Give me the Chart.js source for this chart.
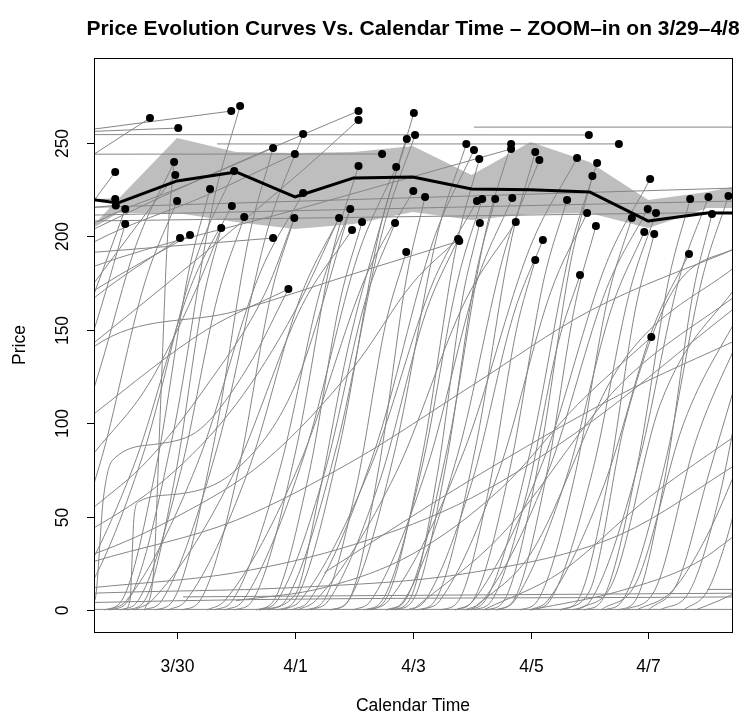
<!DOCTYPE html>
<html><head><meta charset="utf-8">
<script src="https://cdn.jsdelivr.net/npm/chart.js@4"></script>
<style>html,body{margin:0;padding:0;background:#fff}</style>
</head><body>
<canvas id="c" width="741" height="719"></canvas>
<script>
// ---- axis ticks ----
const xTickDays = [1, 3, 5, 7, 9];
const xTickLabels = ['3/30', '4/1', '4/3', '4/5', '4/7'];
const yTicks = [0, 50, 100, 150, 200, 250];

// ---- mean line and band (days since 3/29) ----
const meanDays = [-1, 0, 1, 2, 3, 4, 5, 6, 7, 8, 9, 10, 11];
const meanPrices = [222, 217.9, 229.7, 234.5, 221.1, 231.3, 231.8, 225.4, 224.9, 223.8, 208.2, 212.5, 212.5];
const bandDays = [-0.45, 0, 1, 2, 3, 4, 5, 6, 7, 8, 9, 10, 11];
const bandUpper = [205, 220, 252.7, 245.2, 244.6, 245.2, 248.4, 232.9, 250.5, 239.8, 219.5, 223.8, 230];
const bandLower = [204, 212.5, 212.5, 207.7, 204, 206.6, 213, 208.8, 212, 212.5, 204.5, 215.2, 215.2];

// ---- final prices (dots) ----
const dotDays = [0.54,1.02,1.92,2.07,-0.05,0.95,0.97,1.97,1.56,-0.05,-0.04,0.12,0.12,1.00,1.93,2.14,1.75,1.05,1.22,2.63,3.00,3.14,2.99,2.63,3.14,4.08,4.08,4.48,4.08,4.72,5.02,5.04,4.90,5.01,5.21,3.94,3.75,4.14,3.97,4.70,4.89,5.91,6.04,6.13,5.77,6.09,6.18,6.40,6.69,6.67,6.67,6.14,6.75,7.99,8.50,7.08,7.15,7.79,8.13,8.05,9.03,7.62,7.96,8.72,8.99,9.13,8.11,8.93,9.10,9.71,10.02,10.36,10.08,7.21,9.69,2.89,5.79,7.08,7.84,9.05];
const dotPrices = [263.4,258.0,267.1,269.8,234.5,239.8,232.9,235.0,225.4,220.0,216.6,214.6,206.6,219.0,216.3,210.4,204.5,199.1,200.7,247.3,244.1,254.8,209.9,199.1,223.2,267.1,262.3,244.1,237.7,237.2,266.1,254.3,252.1,224.3,221.1,214.7,209.9,207.7,203.4,207.2,191.6,249.5,246.3,241.4,198.6,218.9,220.0,220.0,220.6,249.5,246.8,207.2,207.7,254.3,249.5,245.2,240.9,242.0,239.3,232.3,230.7,219.5,212.5,209.9,214.7,212.5,205.6,202.4,201.3,220.0,221.1,221.6,212.0,198.1,190.6,171.8,197.5,187.4,179.3,146.1];

// ---- price evolution curves: [day, price] ----
const curvesFromLeft = [
  [[-1,232],[0.54,263.4]], [[-1,255.5],[1.02,258]], [[-1,255],[1.92,267.1]],
  [[-1,254.5],[7.99,254.3]], [[-1,244],[4.48,244.1]], [[-1,194],[-0.05,234.5]],
  [[-1,219],[-0.05,220]], [[-1,214],[-0.04,216.6]],
  [[-1,120],[-0.4,170],[0.12,214.6]], [[-1,100],[-0.41,150],[0.12,206.6]],
  [[-1,60],[-0.3,130],[0.3,195],[0.95,239.8]], [[-1,150],[-0.41,175],[0.3,205],[0.97,232.9]],
  [[-1,150],[-0.41,167],[1.05,199.1]], [[-1,158],[-0.41,171],[1.22,200.7]],
  [[-1,195],[-0.41,207],[1.2,228],[2.63,247.3]], [[-1,185],[-0.41,197],[1.5,222],[3.0,244.1]],
  [[-1,190],[2.63,199.1]], [[-1,195],[1.0,225],[3.1,254],[4.08,267.1]],
  [[-1,128],[1.5,192],[3.14,235.6],[4.08,262.3]], [[-1,176],[-0.41,184],[3.1,215],[6.67,246.8]],
  [[-1,90],[-0.41,105],[1.5,150],[2.89,171.8]], [[-1,120],[-0.41,141],[2.0,160],[4.0,180],[5.79,197.5]],
  [[-1,211],[10.6,219]], [[-1,208],[10.6,213]], [[-1,215],[10.6,226]],
  [[-1,60],[-0.41,84],[0.5,120],[1.3,170],[1.75,204.5]],
  [[-1,40],[-0.41,55],[0.5,80],[1.5,120],[2.5,170],[2.99,209.9]],
  [[-1,35],[-0.41,44],[0.8,70],[2.0,110],[3.0,160],[3.75,209.9]],
  [[-1,25],[-0.41,30],[1.0,50],[2.5,80],[4.0,130],[5.0,175],[5.77,198.6]],
  [[-1,20],[-0.41,26],[2,48],[4,80],[6,120],[8,160],[10.6,195]],
  [[-1,10],[-0.41,12],[2,20],[4,35],[6,60],[8,100],[10,150],[10.6,165]],
  [[-1,8],[-0.41,9],[3,12],[6,20],[8.5,40],[10.6,80]],
  [[-1,3],[-0.41,4],[10.6,7]], [[-1,0.3],[10.6,0.3]], [[1.1,7],[10.6,9]],
  [[-1,0],[-0.4,5],[-0.25,60],[-0.1,80],[0.7,89],[1.4,97],[2.2,130],[2.89,171.8]],
  [[0.1,0],[0.2,5],[0.27,50],[0.35,58],[1.0,62],[2.0,75],[3.0,120],[3.94,214.7]],
  [[1.68,249.5],[8.5,249.5]], [[6.04,258.5],[10.6,258.5]]
];
const curvesToDots = [
  [[-0.13,0],[0.17,5],[0.93,94],[1.6,216],[2.07,269.8]],
  [[-0.93,0],[-0.63,5],[0.41,82],[1.32,188],[1.97,235]],
  [[-0.24,0],[0.06,5],[0.66,79],[1.19,180],[1.56,225.4]],
  [[-1.5,0],[-1.2,5],[-0.32,77],[0.45,175],[1.0,219]],
  [[-1.17,0],[-0.87,5],[0.25,76],[1.23,173],[1.93,216.3]],
  [[0.04,0],[0.34,5],[1.06,74],[1.69,168],[2.14,210.4]],
  [[0.15,0],[0.45,5],[0.97,72],[1.43,164],[1.75,204.5]],
  [[0.45,0],[0.6,20],[0.72,110],[0.83,195],[0.95,239.8]],
  [[0.44,0],[0.74,5],[1.7,89],[2.54,204],[3.14,254.8]],
  [[1.09,0],[1.39,5],[2.03,73],[2.59,168],[2.99,209.9]],
  [[-0.16,0],[0.14,5],[1.34,78],[2.39,179],[3.14,223.2]],
  [[0.63,0],[0.93,5],[1.61,87],[2.21,198],[2.63,247.3]],
  [[1.98,0],[2.28,5],[3.0,83],[3.63,190],[4.08,237.7]],
  [[1.82,0],[2.12,5],[3.16,83],[4.07,190],[4.72,237.2]],
  [[2.4,0],[3.0,8],[3.4,60],[3.9,140],[4.4,200],[5.02,266.1]],
  [[2.54,0],[2.84,5],[3.72,89],[4.49,203],[5.04,254.3]],
  [[2.7,0],[3.0,5],[3.76,88],[4.43,202],[4.9,252.1]],
  [[1.51,0],[1.81,5],[3.09,79],[4.21,179],[5.01,224.3]],
  [[3.61,0],[3.91,5],[4.43,77],[4.89,177],[5.21,221.1]],
  [[1.64,0],[1.94,5],[2.74,75],[3.44,172],[3.94,214.7]],
  [[0.85,0],[1.15,5],[2.19,73],[3.1,168],[3.75,209.9]],
  [[2.34,0],[2.64,5],[3.24,73],[3.77,166],[4.14,207.7]],
  [[0.27,0],[0.57,5],[1.93,71],[3.12,163],[3.97,203.4]],
  [[2.4,0],[2.7,5],[3.5,73],[4.2,166],[4.7,207.2]],
  [[3.19,0],[3.49,5],[4.05,67],[4.54,153],[4.89,191.6]],
  [[3.61,0],[3.91,5],[4.71,87],[5.41,200],[5.91,249.5]],
  [[2.94,0],[3.24,5],[4.36,86],[5.34,197],[6.04,246.3]],
  [[4.23,0],[4.53,5],[5.17,84],[5.73,193],[6.13,241.4]],
  [[3.27,0],[3.57,5],[4.45,70],[5.22,159],[5.77,198.6]],
  [[2.79,0],[3.09,5],[4.29,77],[5.34,175],[6.09,218.9]],
  [[4.18,0],[4.48,5],[5.16,77],[5.76,176],[6.18,220]],
  [[4.7,0],[5.0,5],[5.56,77],[6.05,176],[6.4,220]],
  [[3.99,0],[4.29,5],[5.25,77],[6.09,176],[6.69,220.6]],
  [[4.57,0],[4.87,5],[5.59,87],[6.22,200],[6.67,249.5]],
  [[4.64,0],[4.94,5],[5.42,73],[5.84,166],[6.14,207.2]],
  [[3.05,0],[3.35,5],[4.71,73],[5.9,166],[6.75,207.7]],
  [[5.08,0],[5.38,5],[6.06,86],[6.66,196],[7.08,245.2]],
  [[4.55,0],[4.85,5],[5.77,84],[6.57,193],[7.15,240.9]],
  [[4.29,0],[4.59,5],[5.87,85],[6.99,194],[7.79,242]],
  [[5.93,0],[6.23,5],[6.99,84],[7.66,191],[8.13,239.3]],
  [[6.25,0],[6.55,5],[7.15,81],[7.68,186],[8.05,232.3]],
  [[5.73,0],[6.03,5],[7.23,81],[8.28,185],[9.03,230.7]],
  [[5.72,0],[6.02,5],[6.66,77],[7.22,176],[7.62,219.5]],
  [[5.16,0],[5.46,5],[6.46,74],[7.34,170],[7.96,212.5]],
  [[6.82,0],[7.12,5],[7.76,73],[8.32,168],[8.72,209.9]],
  [[5.89,0],[6.19,5],[7.31,75],[8.29,172],[8.99,214.7]],
  [[7.03,0],[7.33,5],[8.05,74],[8.68,170],[9.13,212.5]],
  [[6.41,0],[6.71,5],[7.27,72],[7.76,164],[8.11,205.6]],
  [[6.43,0],[6.73,5],[7.61,71],[8.38,162],[8.93,202.4]],
  [[7.5,0],[7.8,5],[8.32,70],[8.78,161],[9.1,201.3]],
  [[7.91,0],[8.21,5],[8.81,77],[9.34,176],[9.71,220]],
  [[7.72,0],[8.02,5],[8.82,77],[9.52,177],[10.02,221.1]],
  [[8.26,0],[8.56,5],[9.28,78],[9.91,177],[10.36,221.6]],
  [[8.48,0],[8.78,5],[9.3,74],[9.76,170],[10.08,212]],
  [[4.91,0],[5.21,5],[6.01,69],[6.71,158],[7.21,198.1]],
  [[6.99,0],[7.29,5],[8.25,67],[9.09,152],[9.69,190.6]],
  [[5.48,0],[5.78,5],[6.3,66],[6.76,150],[7.08,187.4]],
  [[6.04,0],[6.34,5],[6.94,63],[7.47,143],[7.84,179.3]],
  [[2.0,5],[3.5,12],[5.0,30],[6.5,65],[7.8,110],[9.05,146.1]]
];
const curvesOffRight = [
  [[7.5,0],[8.0,10],[8.6,100],[9.4,170],[10.6,196]],
  [[6.0,0],[7.0,30],[8.5,130],[10.6,187]],
  [[7.8,0],[8.4,15],[9.2,110],[10.6,178]],
  [[5.0,0],[6.5,40],[8.5,120],[10.6,171]],
  [[8.2,0],[8.8,15],[9.6,100],[10.6,162]],
  [[8.6,0],[9.1,10],[9.8,90],[10.6,150]],
  [[3.5,20],[6.0,70],[8.5,115],[10.6,146]],
  [[9.0,0],[9.5,15],[10.0,70],[10.6,134]],
  [[9.2,0],[9.7,10],[10.2,60],[10.6,123]],
  [[6.2,0],[7.5,20],[9.0,60],[10.6,96]],
  [[8.8,0],[9.4,10],[10.0,40],[10.6,83]],
  [[9.6,0],[10.0,10],[10.3,35],[10.6,70]],
  [[7.0,0],[8.5,10],[9.8,25],[10.6,43]],
  [[9.8,0],[10.2,5],[10.6,11]],
  [[10.0,11],[10.6,11]]
];

const allCurves = curvesFromLeft.concat(curvesToDots, curvesOffRight);
const toXY = (xs, ys) => xs.map((x, i) => ({x: x, y: ys[i]}));

const datasets = [];
datasets.push({type:'scatter', data: toXY(dotDays, dotPrices), pointRadius: 4, pointBackgroundColor:'#000', pointBorderWidth:0, showLine:false, order:0});
datasets.push({data: toXY(meanDays, meanPrices), borderColor:'#000', borderWidth:3, pointRadius:0, tension:0, fill:false, order:1, borderJoinStyle:'round'});
allCurves.forEach(c => datasets.push({
  data: c.map(p => ({x:p[0], y:p[1]})), borderColor:'#858585', borderWidth:1,
  pointRadius:0, cubicInterpolationMode:'monotone', fill:false, order:2
}));
datasets.push({data: toXY(bandDays, bandUpper), borderWidth:0, borderColor:'rgba(0,0,0,0)', backgroundColor:'#bebebe', pointRadius:0, tension:0, fill:'+1', order:3});
datasets.push({data: toXY(bandDays, bandLower), borderWidth:0, borderColor:'rgba(0,0,0,0)', pointRadius:0, tension:0, fill:false, order:3});

const FONT = "'Liberation Sans', Arial, Helvetica, sans-serif";
const rAxes = {
  id: 'rAxes',
  afterDraw(chart) {
    const ctx = chart.ctx, a = chart.chartArea;
    const xs = chart.scales.x, ys = chart.scales.y;
    ctx.save();
    ctx.strokeStyle = '#000'; ctx.lineWidth = 1; ctx.fillStyle = '#000';
    ctx.strokeRect(Math.round(a.left)+0.5, Math.round(a.top)+0.5, Math.round(a.right-a.left), Math.round(a.bottom-a.top));
    ctx.font = '17.5px ' + FONT; ctx.textAlign = 'center'; ctx.textBaseline = 'middle';
    xTickDays.forEach((d, i) => {
      const px = Math.round(xs.getPixelForValue(d)) + 0.5;
      ctx.beginPath(); ctx.moveTo(px, a.bottom); ctx.lineTo(px, a.bottom + 7); ctx.stroke();
      ctx.fillText(xTickLabels[i], px, 667);
    });
    yTicks.forEach(v => {
      const py = Math.round(ys.getPixelForValue(v)) + 0.5;
      ctx.beginPath(); ctx.moveTo(a.left, py); ctx.lineTo(a.left - 7, py); ctx.stroke();
      ctx.save(); ctx.translate(63, py); ctx.rotate(-Math.PI/2);
      ctx.fillText(String(v), 0, 0); ctx.restore();
    });
    const cx = (a.left + a.right) / 2;
    ctx.fillText('Calendar Time', cx, 706);
    ctx.save(); ctx.translate(20, (a.top + a.bottom)/2); ctx.rotate(-Math.PI/2);
    ctx.fillText('Price', 0, 0); ctx.restore();
    ctx.font = 'bold 21px ' + FONT;
    ctx.fillText('Price Evolution Curves Vs. Calendar Time \u2013 ZOOM\u2013in on 3/29\u20134/8', cx, 29);
    ctx.restore();
  }
};

new Chart(document.getElementById('c'), {
  type: 'line',
  data: { datasets: datasets },
  options: {
    responsive: false, animation: false, devicePixelRatio: 1,
    layout: { padding: { left: 94, top: 58, right: 9, bottom: 87 } },
    plugins: { legend: { display: false }, tooltip: { enabled: false }, title: { display: false } },
    scales: {
      x: { type: 'linear', min: -0.41, max: 10.42, display: false },
      y: { type: 'linear', min: -11.8, max: 295.5, display: false }
    }
  },
  plugins: [rAxes]
});
</script>
</body></html>
